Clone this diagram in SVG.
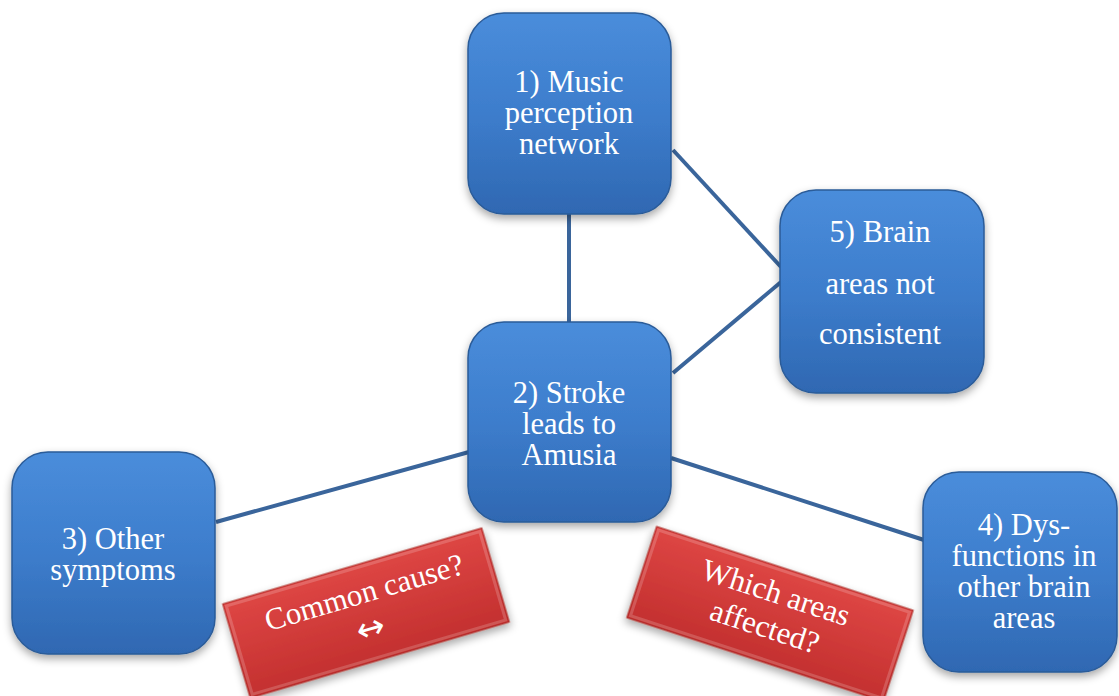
<svg xmlns="http://www.w3.org/2000/svg" width="1119" height="696" viewBox="0 0 1119 696">
  <defs>
    <linearGradient id="blueG" x1="0" y1="0" x2="0" y2="1">
      <stop offset="0" stop-color="#4a8ddb"/>
      <stop offset="0.5" stop-color="#3d7dcc"/>
      <stop offset="1" stop-color="#2f68b2"/>
    </linearGradient>
    <linearGradient id="redG" x1="0" y1="0" x2="0" y2="1">
      <stop offset="0" stop-color="#de4644"/>
      <stop offset="1" stop-color="#c3302f"/>
    </linearGradient>
    <filter id="shadow" x="-20%" y="-20%" width="140%" height="150%">
      <feDropShadow dx="0" dy="4" stdDeviation="4" flood-color="#000" flood-opacity="0.35"/>
    </filter>
  </defs>
  <style>
    .box { fill: url(#blueG); stroke: #2a5b98; stroke-width: 1.5; filter: url(#shadow); }
    .rbox { fill: url(#redG); stroke: #a82826; stroke-width: 1; filter: url(#shadow); }
    .bevel { fill: none; stroke: #ffffff; stroke-opacity: 0.18; stroke-width: 3; }
    .t { font-family: "Liberation Serif", "DejaVu Serif", serif; font-size: 30.5px; fill: #ffffff; text-anchor: middle; }
    .rt { font-family: "Liberation Serif", "DejaVu Serif", serif; font-size: 31px; fill: #ffffff; text-anchor: middle; }
    .arr { font-family: "DejaVu Sans", sans-serif; font-size: 34px; fill: #ffffff; text-anchor: middle; }
    .conn { stroke: #3a659b; stroke-width: 4; fill: none; }
  </style>
  <rect width="1119" height="696" fill="#ffffff"/>

  <g id="connectors">
    <line class="conn" x1="569" y1="214" x2="569" y2="323"/>
    <line class="conn" x1="673" y1="150" x2="781" y2="267"/>
    <line class="conn" x1="673" y1="373" x2="781" y2="282"/>
    <line class="conn" x1="216" y1="522" x2="469" y2="452"/>
    <line class="conn" x1="671" y1="458" x2="924" y2="540"/>
  </g>

  <g id="node1">
    <rect class="box" x="468" y="13" width="203" height="201" rx="36"/>
    <text class="t" x="569" y="92">1) Music</text>
    <text class="t" x="569" y="123">perception</text>
    <text class="t" x="569" y="154">network</text>
  </g>

  <g id="node2">
    <rect class="box" x="468" y="322" width="203" height="200" rx="36"/>
    <text class="t" x="569" y="403">2) Stroke</text>
    <text class="t" x="569" y="434">leads to</text>
    <text class="t" x="569" y="465">Amusia</text>
  </g>

  <g id="node5">
    <rect class="box" x="780" y="190" width="204" height="203" rx="36"/>
    <text class="t" x="880" y="242">5) Brain</text>
    <text class="t" x="880" y="294">areas not</text>
    <text class="t" x="880" y="344">consistent</text>
  </g>

  <g id="node3">
    <rect class="box" x="12" y="452" width="203" height="202" rx="36"/>
    <text class="t" x="113" y="549">3) Other</text>
    <text class="t" x="113" y="580">symptoms</text>
  </g>

  <g id="node4">
    <rect class="box" x="923" y="472" width="194" height="200" rx="36"/>
    <text class="t" x="1024" y="535">4) Dys-</text>
    <text class="t" x="1024" y="566">functions in</text>
    <text class="t" x="1024" y="597">other brain</text>
    <text class="t" x="1024" y="628">areas</text>
  </g>

  <g id="note-common-cause" transform="translate(366,613) rotate(-16.35)">
    <rect class="rbox" x="-135" y="-49" width="270" height="98"/>
    <rect class="bevel" x="-132" y="-46" width="264" height="92"/>
    <text class="rt" x="4" y="-10">Common cause?</text>
    <text class="arr" x="0" y="27">↔</text>
  </g>

  <g id="note-which-areas" transform="translate(770,614) rotate(18.1)">
    <rect class="rbox" x="-135" y="-48" width="270" height="96"/>
    <rect class="bevel" x="-132" y="-45" width="264" height="90"/>
    <text class="rt" x="-1" y="-12">Which areas</text>
    <text class="rt" x="-1" y="24">affected?</text>
  </g>
</svg>
